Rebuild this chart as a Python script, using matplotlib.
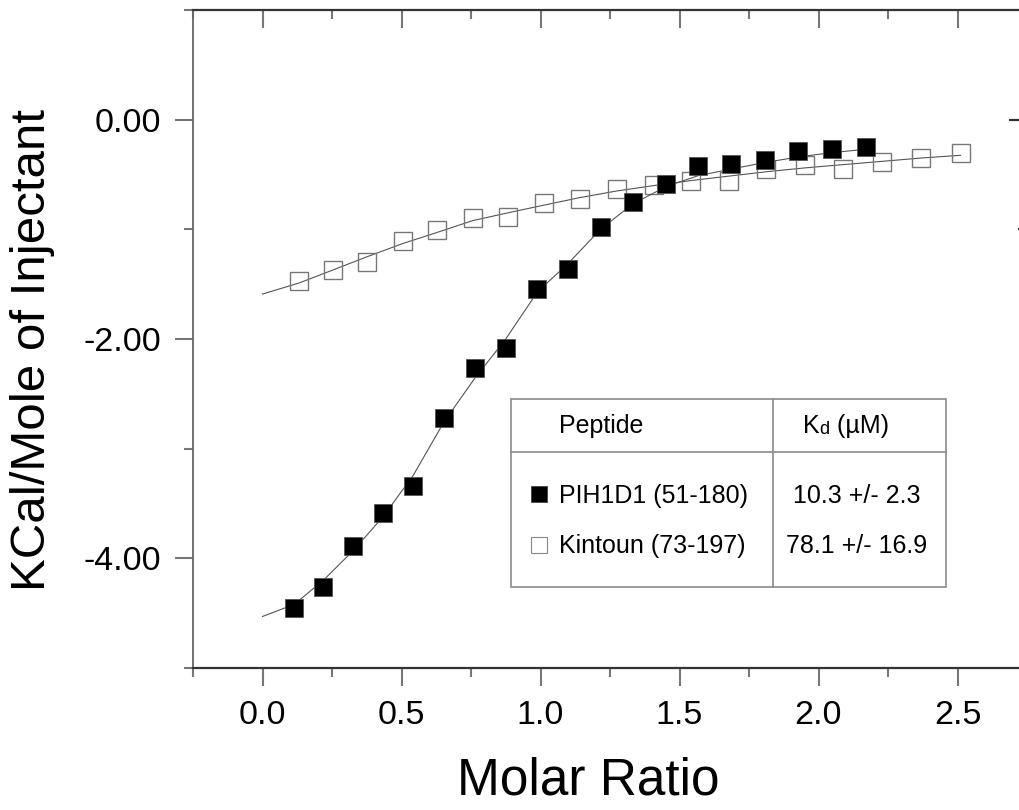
import matplotlib
matplotlib.use("Agg")
import matplotlib.pyplot as plt
from matplotlib.lines import Line2D
from matplotlib.patches import Rectangle
from matplotlib.ticker import MultipleLocator, FormatStrFormatter

plt.rcParams['font.family'] = ['Liberation Sans', 'DejaVu Sans']
plt.rcParams['axes.unicode_minus'] = False

# PIH1D1 (51-180) injections, filled squares
pih_x = [0.114, 0.219, 0.326, 0.434, 0.543, 0.652, 0.763, 0.875, 0.989, 1.100,
         1.216, 1.331, 1.452, 1.568, 1.687, 1.808, 1.928, 2.049, 2.171]
pih_y = [-4.45, -4.26, -3.89, -3.585, -3.34, -2.72, -2.26, -2.08, -1.54, -1.36,
         -0.98, -0.75, -0.587, -0.42, -0.405, -0.37, -0.29, -0.27, -0.25]
# fitted curve
pih_fit_x = [0.0] + pih_x
pih_fit_y = [-4.53, -4.42, -4.20, -3.93, -3.62, -3.24, -2.76, -2.36, -2.00, -1.57,
             -1.31, -1.00, -0.77, -0.61, -0.51, -0.45, -0.39, -0.34, -0.30, -0.27]

# Kintoun (73-197) injections, open squares
kin_x = [0.131, 0.254, 0.376, 0.504, 0.626, 0.757, 0.882, 1.011, 1.143, 1.275,
         1.410, 1.542, 1.677, 1.812, 1.950, 2.088, 2.229, 2.368, 2.511]
kin_y = [-1.47, -1.37, -1.30, -1.11, -1.01, -0.90, -0.886, -0.76, -0.727, -0.63,
         -0.594, -0.563, -0.557, -0.45, -0.414, -0.45, -0.39, -0.347, -0.30]
kin_fit_x = [0.0] + kin_x
kin_fit_y = [-1.59, -1.49, -1.37, -1.25, -1.13, -1.03, -0.92, -0.85, -0.78, -0.71,
             -0.65, -0.60, -0.555, -0.515, -0.475, -0.44, -0.41, -0.38, -0.35, -0.325]

peptides = ['PIH1D1 (51-180)', 'Kintoun (73-197)']
kd_values = ['10.3 +/- 2.3', '78.1 +/- 16.9']

W, H = 1019, 810
fig = plt.figure(figsize=(W / 100, H / 100), dpi=100)


def fx(px):
    return px / W


def fy(py):
    return 1 - py / H


# axes run past the right edge of the picture, like the cropped original
ax = fig.add_axes([fx(193), fy(668), (1027 - 193) / W, (668 - 10) / H])

ax.plot(kin_fit_x, kin_fit_y, color='#555555', lw=0.8, zorder=2)
ax.plot(kin_x, kin_y, 's', ms=13, mfc='none', mec='#777777', mew=1.0, zorder=3)
ax.plot(pih_fit_x, pih_fit_y, color='#555555', lw=0.8, zorder=4)
ax.plot(pih_x, pih_y, 's', ms=13.5, mfc='black', mec='#555555', mew=0.6, zorder=5)

ax.set_xlim(-0.25, 2.75)
ax.set_ylim(-5, 1)
ax.xaxis.set_major_locator(MultipleLocator(0.5))
ax.xaxis.set_minor_locator(MultipleLocator(0.25))
ax.xaxis.set_major_formatter(FormatStrFormatter('%.1f'))
ax.yaxis.set_major_locator(MultipleLocator(2))
ax.yaxis.set_minor_locator(MultipleLocator(1))
ax.yaxis.set_major_formatter(FormatStrFormatter('%.2f'))

tick_col = '#777777'
ax.tick_params(which='both', direction='out', color=tick_col, width=1.5,
               labelsize=24.5, top=False, right=False)
ax.tick_params(which='major', length=13, pad=10)
ax.tick_params(which='minor', length=6.5)

for side in ['left', 'right']:
    ax.spines[side].set_color('#666666')
    ax.spines[side].set_linewidth(1.3)
for side in ['top', 'bottom']:
    ax.spines[side].set_color('#333333')
    ax.spines[side].set_linewidth(1.6)

# mirrored inward ticks on top
top = ax.secondary_xaxis('top')
top.xaxis.set_major_locator(MultipleLocator(0.5))
top.xaxis.set_minor_locator(MultipleLocator(0.25))
top.tick_params(which='both', direction='in', color=tick_col, width=1.5, labeltop=False)
top.tick_params(which='major', length=13)
top.tick_params(which='minor', length=6.5)
top.spines['top'].set_visible(False)

# only the upper right ticks show in the cropped original
right = ax.twinx()
right.set_ylim(ax.get_ylim())
right.set_yticks([0])
right.set_yticks([-1], minor=True)
right.tick_params(which='both', direction='in', color='#333333', width=1.6,
                  labelright=False)
right.tick_params(which='major', length=13)
right.tick_params(which='minor', length=6.5)
for s in right.spines.values():
    s.set_visible(False)

fig.text(fx(588), fy(781), 'Molar Ratio', fontsize=37, ha='center', va='center')
fig.text(fx(33), fy(350), 'KCal/Mole of Injectant', fontsize=35.5, rotation=90,
         ha='center', va='center')

# table with peptides and Kd
box_col = '#8a8a8a'
fig.add_artist(Rectangle((fx(511), fy(587)), (946 - 511) / W, (587 - 399) / H,
                         transform=fig.transFigure, fill=False, ec=box_col, lw=1.2))
fig.add_artist(Line2D([fx(511), fx(946)], [fy(452), fy(452)],
                      transform=fig.transFigure, color=box_col, lw=1.2))
fig.add_artist(Line2D([fx(773), fx(773)], [fy(399), fy(587)],
                      transform=fig.transFigure, color=box_col, lw=1.2))

fs = 18
fig.text(fx(559), fy(433), 'Peptide', fontsize=fs, va='baseline')
k = fig.text(fx(803), fy(433), 'K', fontsize=fs, va='baseline')
d = plt.annotate('d', xy=(1, 0), xycoords=k, fontsize=13, va='bottom')
plt.annotate(' (\u00b5M)', xy=(1, 0), xycoords=d, fontsize=fs, va='bottom')

rows_y = [503, 553]
fig.add_artist(Line2D([fx(539)], [fy(494)], transform=fig.transFigure, marker='s',
                      ms=12, mfc='black', mec='#444444', mew=0.6))
fig.add_artist(Line2D([fx(539)], [fy(545)], transform=fig.transFigure, marker='s',
                      ms=12, mfc='white', mec='#888888', mew=0.8))
for name, kd, yb in zip(peptides, kd_values, rows_y):
    fig.text(fx(559), fy(yb), name, fontsize=fs, va='baseline')
    fig.text(fx(857), fy(yb), kd, fontsize=fs, va='baseline', ha='center')

fig.savefig('out.png', dpi=100)
